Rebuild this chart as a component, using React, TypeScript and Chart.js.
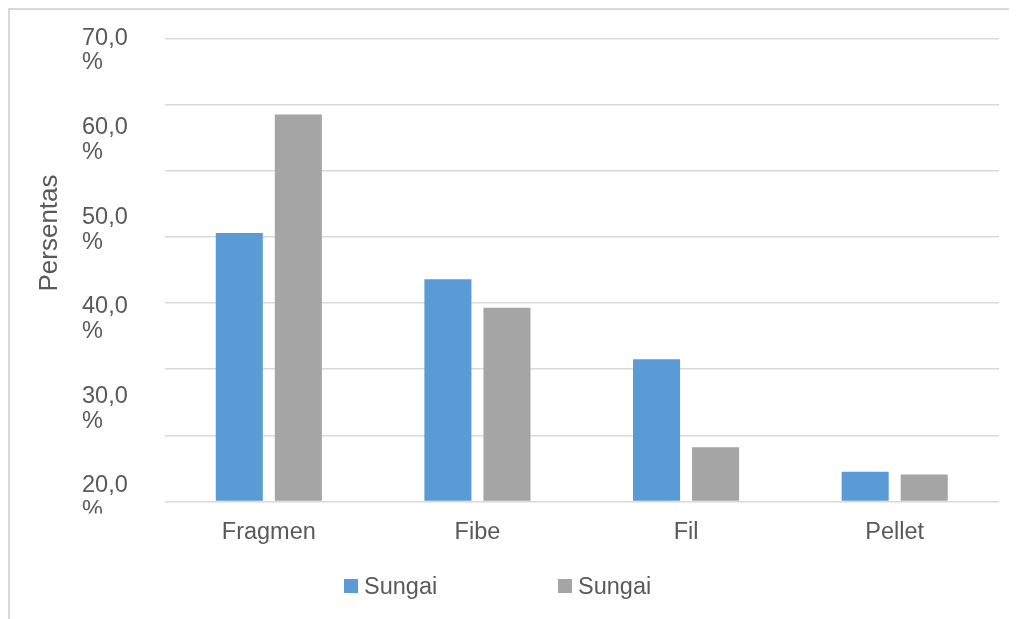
import React, { useEffect, useRef } from "react";
import { Chart, registerables } from "chart.js";

Chart.register(...registerables);

const categories = ["Fragmen", "Fibe", "Fil", "Pellet"];
const seriesNames = ["Sungai", "Sungai"];
const seriesBlue = [40.6, 33.6, 21.5, 4.5];
const seriesGray = [58.5, 29.3, 8.2, 4.1];
const yTickValues = [20, 30, 40, 50, 60, 70];
const yTickLabels = ["20,0 %", "30,0 %", "40,0 %", "50,0 %", "60,0 %", "70,0 %"];
const yTitle = "Persentas";

const FONT = "'Liberation Sans', Arial, sans-serif";
const TEXT = "#595959";
const BLUE = "#5B9BD5";
const GRAY = "#A5A5A5";
const GRID = "#d9d9d9";

export default function App() {
  const ref = useRef<HTMLCanvasElement | null>(null);

  useEffect(() => {
    if (!ref.current) return;
    Chart.defaults.font.family = FONT;
    Chart.defaults.color = TEXT;
    const chart = new Chart(ref.current, {
      type: "bar",
      data: {
        labels: categories,
        datasets: [
          { label: seriesNames[0], data: seriesBlue, backgroundColor: BLUE, yAxisID: "y" },
          { label: seriesNames[1], data: seriesGray, backgroundColor: GRAY, yAxisID: "y" },
        ],
      },
      options: {
        responsive: false,
        animation: false,
        layout: { padding: { left: 20, right: 18, top: 28.5, bottom: 57.5 } },
        datasets: { bar: { categoryPercentage: 0.566, barPercentage: 0.797 } } as any,
        plugins: { legend: { display: false }, tooltip: { enabled: false } },
        scales: {
          x: {
            grid: { display: false, drawTicks: false },
            border: { display: false },
            ticks: { font: { size: 23.5, family: FONT }, color: TEXT, padding: 17 },
            afterFit: (s: any) => { s.height = 60; },
          },
          y: {
            type: "linear",
            position: "left",
            weight: 1,
            min: 0,
            max: 70,
            ticks: { display: false, stepSize: 10 },
            grid: { color: GRID, lineWidth: 1.5, drawTicks: false },
            border: { display: false },
            afterFit: (s: any) => { s.width = 0; },
          },
          y2: {
            type: "linear",
            position: "left",
            weight: 2,
            min: 19.64,
            max: 71.34,
            grid: { display: false, drawTicks: false },
            border: { display: false },
            ticks: {
              crossAlign: "far",
              padding: 0,
              color: TEXT,
              font: { size: 23.5, family: FONT, lineHeight: 1.06 },
              callback: (v: any) => {
                const i = yTickValues.indexOf(Number(v));
                return i >= 0 ? yTickLabels[i].split(" ") : "";
              },
            },
            afterBuildTicks: (s: any) => {
              s.ticks = yTickValues.map((v) => ({ value: v }));
            },
            afterFit: (s: any) => { s.width = 82.5; },
            afterUpdate: (s: any) => {
              if (s.__clipped) return;
              s.__clipped = true;
              const orig = s.drawLabels.bind(s);
              s.drawLabels = (area: any) => {
                const ctx = s.ctx;
                ctx.save();
                ctx.beginPath();
                ctx.rect(0, 0, s.chart.width, s.chart.chartArea.bottom + 12);
                ctx.clip();
                orig(area);
                ctx.restore();
              };
            },
          } as any,
          yT: {
            type: "linear",
            position: "left",
            weight: 3,
            min: 0,
            max: 1,
            grid: { display: false, drawTicks: false },
            border: { display: false },
            ticks: { display: false },
            title: {
              display: true,
              text: yTitle,
              color: TEXT,
              font: { size: 26, family: FONT },
              padding: { top: 4, bottom: 0 },
            },
            afterFit: (s: any) => { s.width = 52; },
            afterUpdate: (s: any) => {
              if (s.__shifted) return;
              s.__shifted = true;
              const orig = s.drawTitle.bind(s);
              s.drawTitle = (...args: any[]) => {
                const ctx = s.ctx;
                ctx.save();
                ctx.translate(0, -37);
                orig(...args);
                ctx.restore();
              };
            },
          } as any,
        },
      },
    });
    return () => chart.destroy();
  }, []);

  const legendItem = (name: string, color: string, left: number) => (
    <div
      style={{
        position: "absolute",
        left,
        top: 562,
        height: 28,
        display: "flex",
        alignItems: "center",
        fontFamily: FONT,
        fontSize: "23.5px",
        color: TEXT,
        whiteSpace: "nowrap",
      }}
    >
      <span style={{ display: "inline-block", width: 14, height: 14, background: color, marginRight: 6 }} />
      <span>{name}</span>
    </div>
  );

  return (
    <div
      style={{
        position: "relative",
        width: 1007,
        height: 609,
        borderTop: `2px solid ${GRID}`,
        borderLeft: `2px solid ${GRID}`,
        background: "#fff",
      }}
    >
      <canvas ref={ref} width={1007} height={609} style={{ display: "block" }} />
      {legendItem(seriesNames[0], BLUE, 334)}
      {legendItem(seriesNames[1], GRAY, 548)}
    </div>
  );
}
